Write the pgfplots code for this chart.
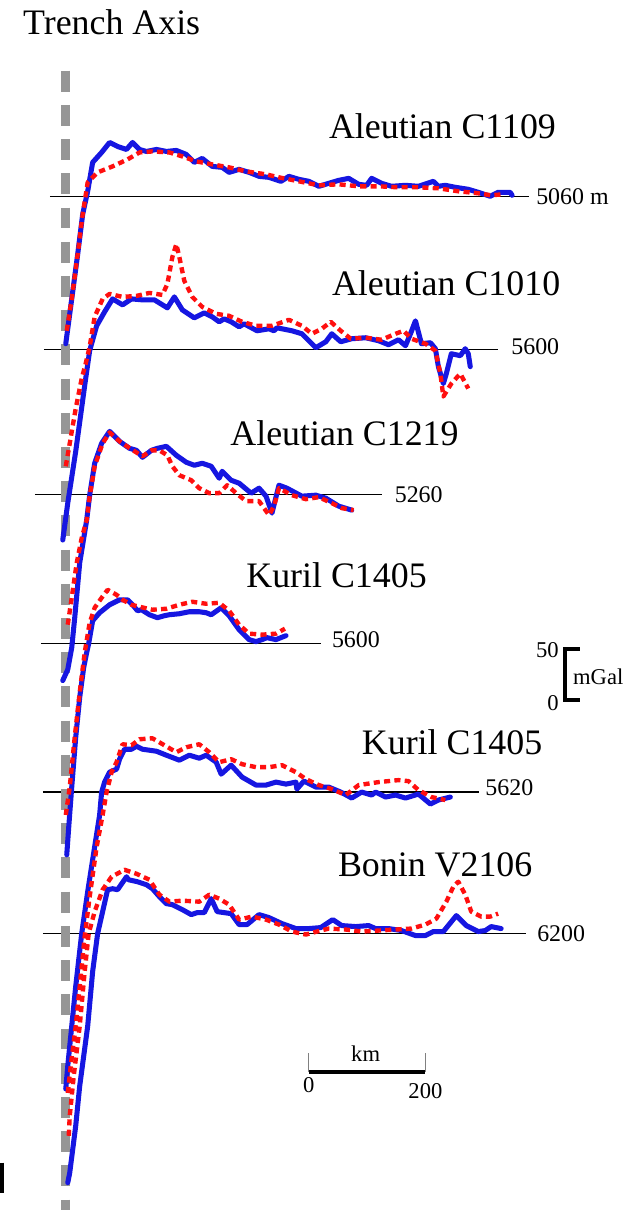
\documentclass[border=0pt]{standalone}
\usepackage{pgfplots}
\pgfplotsset{compat=1.18}
\usepackage{fontspec}
\setmainfont{Liberation Serif}
\definecolor{obsblue}{RGB}{22,22,225}
\definecolor{modred}{RGB}{255,15,15}
\definecolor{trenchgray}{RGB}{150,150,150}
\tikzset{
  observed/.style={obsblue, line width=3.8pt, line join=round, line cap=round, mark=none},
  model/.style={modred, line width=3.3pt, dash pattern=on 4.6pt off 3.2pt, line join=round, mark=none},
  datum/.style={black, line width=1pt, mark=none},
  title/.style={anchor=base west, inner sep=0pt, font=\fontsize{27}{30}\selectfont},
  depth/.style={anchor=base west, inner sep=0pt, font=\fontsize{18}{20}\selectfont},
  scaletxt/.style={inner sep=0pt, font=\fontsize{17}{19}\selectfont},
}
\begin{document}
\begin{tikzpicture}
\begin{axis}[
  scale only axis, width=478.5pt, height=910.5pt,
  xmin=0, xmax=638, ymin=0, ymax=1214, y dir=reverse,
  hide axis, clip=false,
]
\path (axis cs:0,0) rectangle (axis cs:638,1214);

% datum lines of the six profiles
\addplot[datum] coordinates {(50,197) (531,197)};
\addplot[datum] coordinates {(44,351) (500,351)};
\addplot[datum] coordinates {(35,496) (383,496)};
\addplot[datum] coordinates {(41,646) (322,646)};
\addplot[datum] coordinates {(43,795) (481,795)};
\addplot[datum] coordinates {(43,937) (528,937)};

% trench axis
\addplot[trenchgray, line width=6.75pt, dash pattern=on 15.75pt off 10pt, mark=none]
  coordinates {(66,71) (66,1214)};

% Aleutian C1109
\addplot[observed] coordinates {(66,345)(72,300)(78,255)(83,215)(88,192)(93,163)(102,153)(110,143)(118,147)(127,150)(133,143)(140,150)(147,152)(157,150)(167,152)(177,151)(187,155)(195,163)(203,159)(213,167)(223,168)(230,173)(240,170)(250,173)(260,177)(270,178)(282,182)(290,177)(300,180)(310,182)(320,187)(330,184)(340,181)(350,179)(360,185)(368,186)(373,179)(383,184)(393,187)(407,186)(420,187)(435,182)(440,187)(447,186)(457,188)(470,190)(480,193)(492,197)(500,193)(512,193)(514,196)};
\addplot[model] coordinates {(67,332)(72,300)(78,255)(83,215)(88,183)(98,173)(113,167)(128,160)(140,153)(153,152)(170,153)(183,157)(197,162)(213,165)(230,168)(247,172)(267,175)(280,178)(300,182)(320,186)(340,185)(360,187)(380,187)(400,188)(420,188)(440,189)(460,192)(480,194)(493,196)(505,195)};

% Aleutian C1010
\addplot[observed] coordinates {(63,542)(68,505)(76,453)(85,387)(90,352)(97,327)(105,313)(113,300)(123,306)(132,300)(143,301)(155,301)(168,309)(175,298)(183,311)(195,319)(205,314)(213,318)(220,323)(225,320)(232,323)(240,328)(245,325)(258,332)(270,330)(275,332)(278,329)(293,332)(303,335)(317,349)(327,343)(333,335)(342,343)(353,340)(367,339)(380,342)(390,346)(400,341)(407,347)(412,335)(417,322)(423,345)(432,344)(437,350)(440,368)(445,385)(448,375)(453,355)(462,357)(467,350)(470,355)(472,368)};
\addplot[model] coordinates {(66,468)(70,445)(76,410)(82,380)(86,365)(90,348)(95,318)(103,300)(110,295)(123,298)(137,297)(150,294)(163,296)(168,285)(173,258)(177,245)(180,258)(185,282)(193,298)(203,308)(217,315)(230,317)(243,323)(257,327)(273,327)(290,321)(303,327)(313,335)(323,330)(332,323)(342,332)(352,340)(367,339)(383,341)(397,335)(405,332)(413,340)(427,345)(437,352)(442,375)(445,398)(453,385)(462,375)(470,390)};

% Aleutian C1219
\addplot[observed] coordinates {(63,683)(68,672)(72,650)(75,620)(80,565)(87,522)(90,497)(95,465)(102,445)(110,433)(120,443)(130,450)(137,452)(143,459)(152,452)(158,450)(167,448)(177,457)(187,464)(195,467)(203,465)(212,468)(220,480)(223,473)(232,482)(240,485)(252,495)(260,490)(267,498)(273,515)(280,487)(288,490)(303,498)(317,497)(327,500)(340,508)(353,512)};
\addplot[model] coordinates {(68,627)(72,600)(77,565)(82,540)(87,522)(90,498)(95,468)(103,445)(110,434)(120,443)(132,451)(143,458)(152,452)(160,452)(168,457)(173,468)(180,477)(192,482)(200,490)(210,495)(220,495)(228,487)(237,495)(247,503)(260,503)(270,517)(275,508)(280,490)(293,497)(307,501)(320,499)(333,505)(343,510)(355,512)};

% Kuril C1405 (upper)
\addplot[observed] coordinates {(67,858)(69,830)(72,790)(76,740)(80,700)(84,670)(87,655)(89,646)(93,623)(100,615)(110,607)(120,602)(128,602)(133,607)(138,613)(142,612)(150,617)(158,620)(165,618)(170,617)(180,616)(190,614)(200,614)(207,615)(212,617)(222,610)(230,618)(240,632)(250,642)(257,644)(263,642)(268,640)(277,642)(287,638)};
\addplot[model] coordinates {(66,818)(70,790)(75,740)(80,695)(85,655)(90,625)(95,610)(102,600)(108,592)(117,597)(123,602)(132,607)(140,609)(153,612)(167,611)(180,607)(193,604)(207,606)(220,605)(230,613)(240,627)(250,636)(263,637)(277,636)(286,631)};

% Kuril C1405 (lower)
\addplot[observed] coordinates {(66,1093)(68,1070)(72,1030)(76,990)(82,937)(88,895)(95,850)(100,818)(102,795)(105,785)(110,775)(117,772)(120,762)(125,752)(132,752)(137,749)(143,752)(157,754)(167,758)(180,763)(190,758)(200,761)(207,758)(217,765)(222,777)(232,768)(243,780)(257,788)(267,788)(277,785)(287,787)(297,785)(298,792)(305,784)(317,790)(330,790)(342,795)(353,801)(363,795)(373,798)(377,795)(387,800)(397,798)(407,801)(420,797)(432,807)(440,803)(452,800)};
\addplot[model] coordinates {(68,1097)(71,1070)(76,1030)(80,990)(85,940)(90,900)(97,850)(103,818)(107,795)(112,775)(117,765)(123,747)(132,748)(140,742)(153,741)(165,748)(177,755)(187,750)(200,747)(210,755)(220,765)(232,762)(243,767)(257,770)(270,770)(283,768)(297,775)(307,782)(320,788)(333,792)(347,798)(360,788)(380,785)(400,783)(410,784)(420,793)(433,800)(447,803)};

% Bonin V2106
\addplot[observed] coordinates {(68,1187)(70,1177)(76,1130)(80,1090)(88,1030)(93,975)(98,937)(103,915)(108,893)(113,892)(118,893)(127,880)(129,883)(138,885)(147,888)(153,892)(160,900)(167,907)(173,908)(183,913)(192,918)(198,916)(205,916)(212,902)(218,915)(232,917)(240,928)(248,928)(260,918)(270,921)(283,927)(297,932)(310,932)(322,931)(334,923)(343,929)(357,930)(370,929)(377,932)(390,932)(403,934)(417,939)(427,939)(435,935)(445,935)(458,919)(468,929)(480,935)(487,934)(493,930)(503,932)};
\addplot[model] coordinates {(69,1140)(70,1120)(74,1080)(80,1030)(85,975)(89,937)(95,915)(103,893)(112,880)(125,873)(137,877)(150,883)(160,898)(170,905)(183,904)(200,905)(210,898)(220,902)(230,908)(240,923)(253,920)(267,923)(280,928)(293,935)(307,938)(318,935)(330,932)(347,933)(363,935)(380,934)(397,933)(413,932)(427,928)(438,922)(448,905)(455,890)(460,885)(467,898)(473,915)(483,920)(492,920)(500,917)};

% gravity scale bracket, 0 to 50 mGal
\addplot[black, line width=3pt, line join=miter, mark=none] coordinates {(582,651) (567,651) (567,703) (582,703)};
% distance scale bar, 0 to 200 km
\addplot[gray, line width=0.6pt, mark=none] coordinates {(310,1057) (310,1076)};
\addplot[gray, line width=0.6pt, mark=none] coordinates {(427,1057) (427,1076)};
\addplot[black, line width=3pt, mark=none] coordinates {(310,1076) (427,1076)};
\addplot[black, line width=3pt, mark=none] coordinates {(2,1167) (2,1197)};

% text
\node[title] at (axis cs:23,35) {Trench Axis};
\node[title] at (axis cs:330,139) {Aleutian C1109};
\node[title] at (axis cs:333,297) {Aleutian C1010};
\node[title] at (axis cs:231,447) {Aleutian C1219};
\node[title] at (axis cs:247,590) {Kuril C1405};
\node[title] at (axis cs:363,757) {Kuril C1405};
\node[title] at (axis cs:339,880) {Bonin V2106};

\node[depth] at (axis cs:538,205) {5060 m};
\node[depth] at (axis cs:513,356) {5600};
\node[depth] at (axis cs:396,504) {5260};
\node[depth] at (axis cs:333,650) {5600};
\node[depth] at (axis cs:487,798) {5620};
\node[depth] at (axis cs:539,945) {6200};

\node[scaletxt, anchor=base east] at (axis cs:561,660) {50};
\node[scaletxt, anchor=base east] at (axis cs:561,713) {0};
\node[scaletxt, anchor=base west] at (axis cs:575,687) {mGal};
\node[scaletxt, anchor=base] at (axis cs:367,1065) {km};
\node[scaletxt, anchor=base] at (axis cs:310,1097) {0};
\node[scaletxt, anchor=base] at (axis cs:427,1103) {200};
\end{axis}
\end{tikzpicture}
\end{document}
